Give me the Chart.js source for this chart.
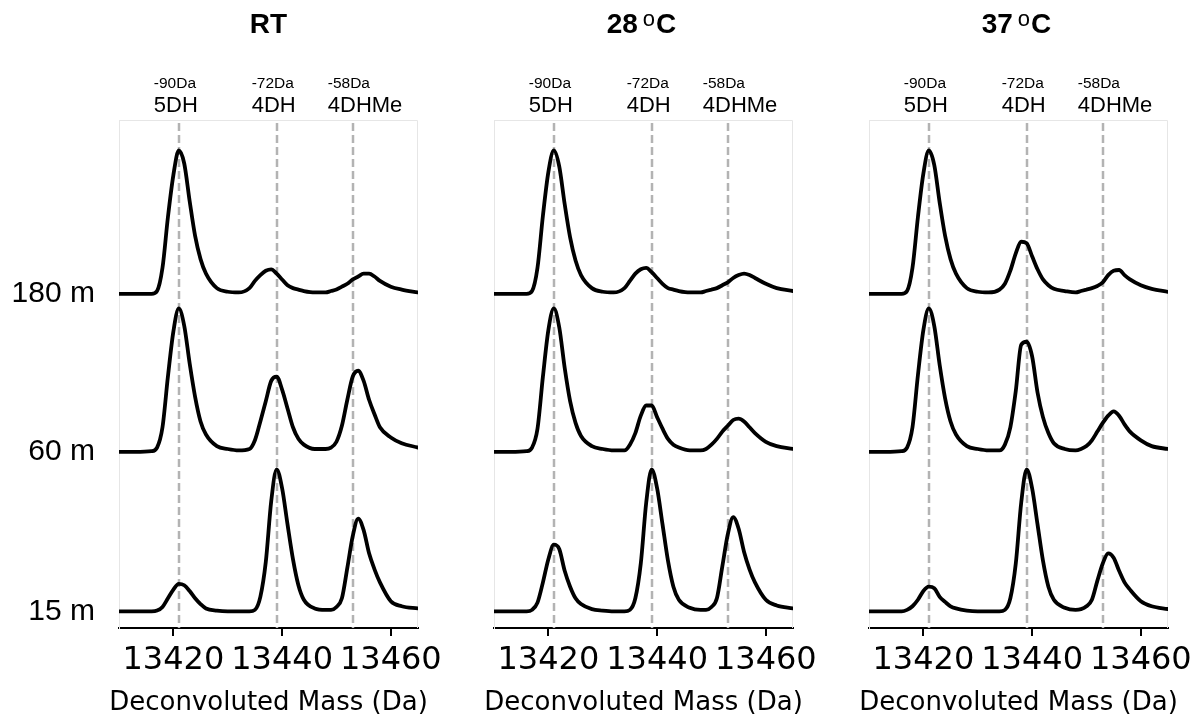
<!DOCTYPE html>
<html lang="en">
<head>
<meta charset="utf-8">
<title>Deconvoluted mass spectra</title>
<script src="https://cdn.jsdelivr.net/npm/chart.js"></script>
<style>
  body { margin: 0; background: #fff; overflow: hidden; }
  #wrap { position: relative; width: 1196px; height: 717px; }
  canvas { position: absolute; top: 0; }
</style>
</head>
<body>
<div id="wrap">
  <canvas id="panelRT" width="446" height="717" style="left:0px"></canvas>
  <canvas id="panel28" width="446" height="717" style="left:375px"></canvas>
  <canvas id="panel37" width="446" height="717" style="left:750px"></canvas>
</div>
<script>
// x positions (Da) the traces were read at
const massDa = [13410, 13413,
  13416, 13417, 13418, 13419, 13420, 13421, 13422, 13423, 13424, 13425, 13426,
  13428, 13430, 13432,
  13434, 13435, 13436, 13437, 13438, 13439, 13440, 13441, 13442, 13443, 13444,
  13446, 13448,
  13449, 13450, 13451, 13452, 13453, 13454, 13455, 13456, 13457, 13458,
  13460, 13462, 13465];

const timeLabels = ['15 m', '60 m', '180 m'];
const traceOffsets = [0, 110, 219];
const panelTitles = ['RT', '28 ºC', '37 ºC'];
const peakMasses = [13421, 13439, 13453];
const peakShifts = ['-90Da', '-72Da', '-58Da'];
const peakNames = ['5DH', '4DH', '4DHMe'];
const xTicks = [13420, 13440, 13460];
const xTitle = 'Deconvoluted Mass (Da)';

// relative intensity (%) per trace
const rt180 = [0, 0,
  0, 2, 18, 53, 82, 99, 90, 64, 40, 24, 14,
  4, 1.5, 1,
  4, 9, 13, 16, 17, 14, 10, 6, 4, 3, 2,
  1, 1,
  2, 3, 5, 7, 10, 12, 14, 14, 12, 9,
  5, 3, 1];
const rt60 = [0, 0,
  0.5, 3, 17, 52, 83, 99, 87, 61, 38, 21, 12,
  4, 2, 1,
  2, 8, 21, 35, 49, 52, 43, 30, 17, 9, 5,
  2, 2,
  3, 7, 18, 36, 52, 56, 49, 36, 26, 17,
  10, 6, 3];
const rt15 = [0, 0,
  0, 0.5, 3, 9, 15, 19, 18, 14, 9, 5, 2,
  0.5, 0, 0,
  0, 1, 10, 34, 76, 98, 85, 60, 36, 18, 8,
  2, 1,
  1, 3, 9, 30, 52, 64, 56, 40, 29, 20,
  7, 3.5, 2];

const c28_180 = [0, 0,
  0, 2, 18, 54, 84, 99, 88, 62, 39, 23, 13,
  4, 1.5, 1,
  4, 9, 14, 17, 18, 15, 11, 7, 4, 3, 2,
  1, 1,
  2, 3, 4, 6, 8, 11, 13, 14, 13, 11,
  7, 4, 2];
const c28_60 = [0, 0,
  0.5, 3, 16, 52, 84, 99, 86, 58, 35, 20, 11,
  4, 2, 1,
  1, 5, 13, 25, 32, 32, 24, 16, 9, 5, 3,
  1, 1,
  2, 5, 9, 14, 18, 22, 23, 21, 17, 13,
  7, 4, 2];
const c28_15 = [0, 0,
  0, 1, 6, 20, 36, 46, 43, 28, 17, 9, 5,
  1.5, 0.5, 0,
  0, 1, 9, 33, 75, 98, 85, 60, 35, 17, 8,
  2.5, 1,
  1, 3, 9, 31, 53, 65, 57, 41, 29, 20,
  8, 4, 2];

const c37_180 = [0, 0,
  0, 2, 18, 53, 83, 99, 89, 63, 40, 24, 14,
  4, 1.5, 1,
  3, 7, 16, 28, 36, 35, 26, 17, 10, 6, 3.5,
  2, 1,
  2, 3, 4, 5.5, 8, 13, 16, 16.5, 13, 10,
  6, 3.5, 1.4];
const c37_60 = [0, 0,
  0.5, 3, 17, 53, 84, 99, 87, 60, 37, 21, 12,
  4, 2, 1,
  1, 5, 17, 42, 74, 76, 66, 41, 24, 13, 6,
  2, 1,
  2, 4, 8, 14, 20, 25, 28, 25, 19, 14,
  8, 4, 2];
const c37_15 = [0, 0,
  0, 1, 3.5, 8, 14, 17, 16, 10, 6.5, 3.5, 2,
  0.5, 0, 0,
  0, 1, 9, 33, 75, 98, 85, 60, 35, 17, 8,
  2.5, 1,
  1.5, 3.5, 8, 21, 33, 40, 37, 28, 20, 15,
  7, 3.5, 1.6];

const framePlugin = {
  id: 'panelFrame',
  beforeDatasetsDraw(chart) {
    const {ctx, chartArea: a, scales: {x}} = chart;
    ctx.save();
    ctx.strokeStyle = '#e6e6e6';
    ctx.lineWidth = 1;
    ctx.beginPath();
    ctx.moveTo(a.left, a.top + 0.5);
    ctx.lineTo(a.right - 0.5, a.top + 0.5);
    ctx.lineTo(a.right - 0.5, a.bottom);
    ctx.stroke();
    ctx.strokeStyle = '#b3b3b3';
    ctx.lineWidth = 2.5;
    ctx.setLineDash([8, 4]);
    peakMasses.forEach(m => {
      const px = Math.round(x.getPixelForValue(m));
      ctx.beginPath();
      ctx.moveTo(px, a.top + 3);
      ctx.lineTo(px, a.bottom);
      ctx.stroke();
    });
    ctx.restore();
  },
  afterDraw(chart, args, opts) {
    const {ctx, chartArea: a, scales: {x}} = chart;
    const cx = (a.left + a.right) / 2;
    ctx.save();
    ctx.fillStyle = '#000';
    ctx.textBaseline = 'alphabetic';
    ctx.textAlign = 'left';
    peakMasses.forEach((m, i) => {
      const px = x.getPixelForValue(m) - 25;
      ctx.font = '15.5px "Liberation Sans"';
      ctx.fillText(peakShifts[i], px, a.top - 32.5);
      ctx.font = '22px "Liberation Sans"';
      ctx.fillText(peakNames[i], px, a.top - 8.5);
    });

    // axis title drawn here so it is not squeezed to the axis width
    ctx.textAlign = 'center';
    ctx.font = '26px "DejaVu Sans"';
    ctx.fillText(xTitle, cx, 710);

    // panel title, with a raised o for the degree mark
    const big = 'bold 28px "Liberation Sans"';
    const small = '22px "Liberation Sans"';
    const parts = opts.title.split('º');
    if (parts.length === 1) {
      ctx.font = big;
      ctx.fillText(opts.title, cx, 33);
    } else {
      ctx.textAlign = 'left';
      const head = parts[0].trim(), tail = parts[1];
      ctx.font = big;
      const w1 = ctx.measureText(head).width, w3 = ctx.measureText(tail).width;
      ctx.font = small;
      const w2 = ctx.measureText('o').width;
      let sx = cx - 2 - (w1 + 5 + w2 + 1 + w3) / 2;
      ctx.font = big;
      ctx.fillText(head, sx, 33);
      sx += w1 + 5;
      ctx.font = small;
      ctx.fillText('o', sx, 25.5);
      sx += w2 + 1;
      ctx.font = big;
      ctx.fillText(tail, sx, 33);
    }
    ctx.restore();
  }
};

function makePanel(id, title, traces, showY) {
  const datasets = traces.map((vals, i) => ({
    data: massDa.map((m, j) => ({x: m, y: vals[j] + traceOffsets[i]})),
    borderColor: '#000',
    borderWidth: 3.8,
    pointRadius: 0,
    fill: false,
    cubicInterpolationMode: 'monotone',
    borderJoinStyle: 'round',
    borderCapStyle: 'round'
  }));
  return new Chart(document.getElementById(id), {
    type: 'line',
    data: {datasets},
    options: {
      responsive: false,
      animation: false,
      devicePixelRatio: 1,
      layout: {padding: {left: 0, top: 120, right: 28, bottom: 0}},
      plugins: {
        legend: {display: false},
        tooltip: {enabled: false},
        panelFrame: {title: title}
      },
      scales: {
        x: {
          type: 'linear',
          min: 13410,
          max: 13465,
          afterFit: s => { s.height = 89; s.paddingLeft = 0; s.paddingRight = 0; },
          afterBuildTicks: s => { s.ticks = xTicks.map(v => ({value: v})); },
          grid: {drawOnChartArea: false, drawTicks: true, tickLength: 8, color: '#000', lineWidth: 2},
          border: {color: '#000', width: 2},
          ticks: {
            font: {family: 'DejaVu Sans', size: 32},
            color: '#000',
            padding: 5,
            maxRotation: 0,
            callback: v => String(v)
          },
          title: {display: false}
        },
        y: {
          type: 'linear',
          min: -11.5,
          max: 339,
          afterFit: s => { s.width = 119; s.paddingTop = 0; s.paddingBottom = 0; },
          afterBuildTicks: s => { s.ticks = traceOffsets.map(v => ({value: v})); },
          grid: {display: false, drawTicks: false},
          border: {color: '#e6e6e6', width: 1},
          ticks: {
            display: showY,
            font: {family: 'Liberation Sans', size: 30},
            color: '#000',
            padding: 24,
            callback: (v, i) => timeLabels[i]
          }
        }
      }
    },
    plugins: [framePlugin]
  });
}

makePanel('panelRT', panelTitles[0], [rt15, rt60, rt180], true);
makePanel('panel28', panelTitles[1], [c28_15, c28_60, c28_180], false);
makePanel('panel37', panelTitles[2], [c37_15, c37_60, c37_180], false);
</script>
</body>
</html>
